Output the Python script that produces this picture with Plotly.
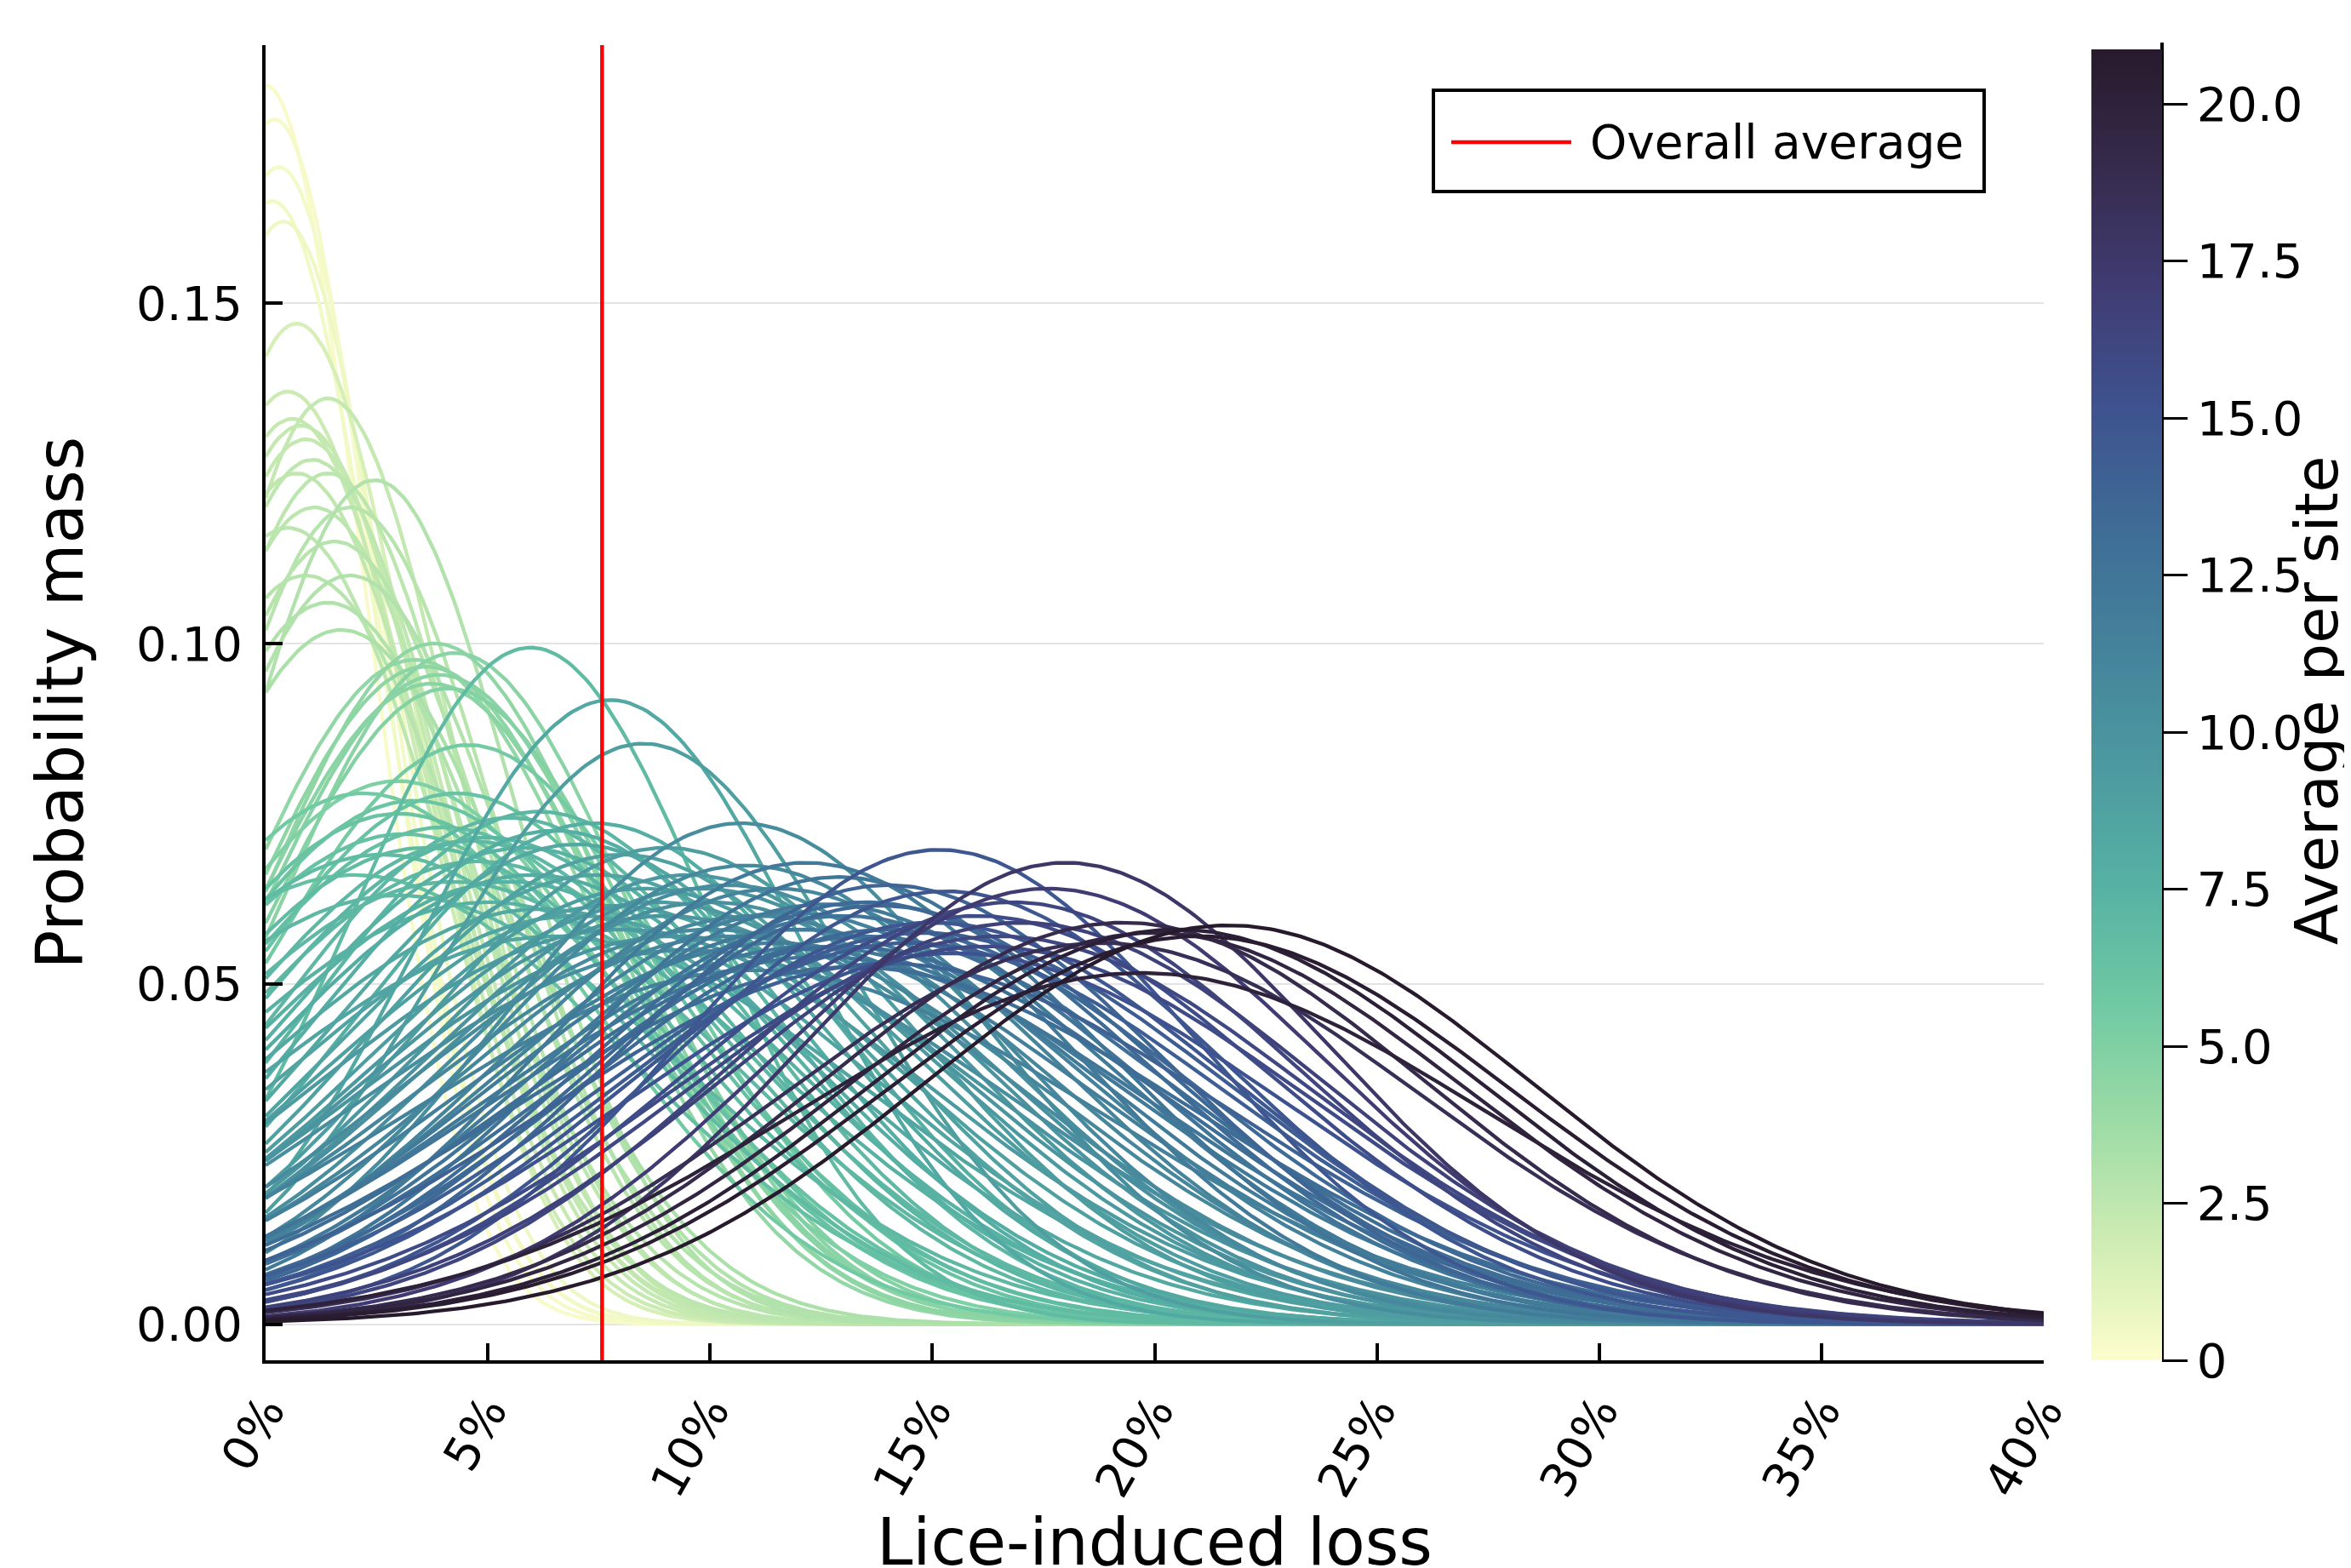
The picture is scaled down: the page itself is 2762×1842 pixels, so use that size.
import numpy as np
import plotly.graph_objects as go
from plotly.colors import sample_colorscale

# ---------------- data ----------------
# each site's probability-mass curve: mode (% loss), peak height, colour value (average per site)
light_mode = [0.0, 0.2, 0.3, 0.15, 0.4, 0.7, 0.5, 1.4, 0.6, 0.8, 0.9, 1.05, 0.7, 1.4, 2.45, 1.9, 1.1, 0.5, 1.55, 0.9, 1.9, 1.4, 1.7]
light_peak = [0.182, 0.177, 0.170, 0.165, 0.162, 0.147, 0.137, 0.136, 0.133, 0.132, 0.130, 0.127, 0.125, 0.125, 0.124, 0.120, 0.120, 0.117, 0.115, 0.110, 0.110, 0.106, 0.102]
light_c = [0.2, 0.3, 0.4, 0.5, 0.6, 1.6, 2.0, 2.3, 2.2, 2.3, 2.3, 2.5, 2.4, 2.6, 3.0, 2.8, 2.6, 2.6, 2.8, 2.8, 3.0, 3.0, 3.2]

green_mode = [3.8, 4.25, 3.35, 3.6, 3.9, 3.73, 4.1, 4.56, 2.97, 3.35, 3.1, 2.2, 4.3, 3.0, 2.6, 4.0, 2.0, 4.8]
green_peak = [0.100, 0.0986, 0.0976, 0.0966, 0.0954, 0.0941, 0.0934, 0.0851, 0.0798, 0.0769, 0.072, 0.078, 0.078, 0.075, 0.069, 0.073, 0.066, 0.068]
green_c = [4.3, 4.6, 4.2, 4.4, 4.6, 4.6, 4.8, 5.5, 5.0, 6.0, 6.3, 5.6, 6.2, 6.2, 6.8, 6.5, 6.5, 7.0]

teal_mode = [5.96, 7.75, 8.5, 6.15, 5.5, 7.4, 4.6, 5.0, 3.6, 5.8, 6.5, 7.0, 8.0, 9.0, 9.5, 8.5, 7.5, 6.0, 9.0, 8.0, 7.0, 5.0, 6.5, 4.2, 3.0, 7.8, 6.2, 5.5, 8.8]
teal_peak = [0.0994, 0.0917, 0.0853, 0.0753, 0.0744, 0.0736, 0.071, 0.0715, 0.070, 0.070, 0.0725, 0.0705, 0.069, 0.070, 0.066, 0.064, 0.066, 0.066, 0.060, 0.058, 0.060, 0.062, 0.057, 0.065, 0.063, 0.0615, 0.061, 0.065, 0.062]
teal_c = [6.8, 8.3, 9.0, 7.2, 7.0, 7.8, 7.0, 7.2, 6.8, 7.5, 7.8, 8.2, 8.8, 9.2, 9.6, 9.2, 8.6, 7.9, 9.8, 9.3, 8.6, 7.5, 8.5, 7.0, 7.0, 8.9, 8.2, 7.5, 9.5]

tealblue_mode = [10.7, 10.8, 11.5, 12.16, 12.9, 12.6, 10.0, 11.0, 13.0, 12.0, 11.5, 10.5, 9.5, 12.5, 13.5, 11.0, 10.0, 14.0, 9.8, 11.8, 13.8, 12.3, 9.2, 10.4, 13.2]
tealblue_peak = [0.0736, 0.0674, 0.064, 0.0678, 0.0657, 0.0617, 0.062, 0.060, 0.060, 0.058, 0.056, 0.057, 0.055, 0.054, 0.057, 0.052, 0.058, 0.058, 0.064, 0.0605, 0.0615, 0.0555, 0.057, 0.0645, 0.0525]
tealblue_c = [10.5, 10.8, 11.2, 12.0, 12.5, 12.0, 10.3, 11.0, 12.6, 12.0, 11.6, 11.0, 10.4, 12.4, 13.0, 11.4, 10.6, 13.4, 10.0, 11.5, 13.5, 12.2, 9.9, 10.4, 13.2]

blue_mode = [15.15, 15.3, 14.0, 13.5, 16.0, 15.0, 17.0, 16.5, 14.5, 13.0, 17.6, 18.0, 16.8, 15.5, 14.0, 14.8, 16.2]
blue_peak = [0.0697, 0.0636, 0.0645, 0.062, 0.060, 0.059, 0.059, 0.057, 0.056, 0.0555, 0.064, 0.0678, 0.062, 0.0545, 0.053, 0.0575, 0.0555]
blue_c = [14.8, 14.8, 13.8, 13.3, 15.6, 14.8, 16.6, 16.0, 14.2, 13.2, 17.1, 17.6, 16.3, 15.2, 14.0, 14.4, 15.8]

dark_mode = [21.66, 20.5, 20.0, 19.3, 19.7, 21.0, 18.8]
dark_peak = [0.0586, 0.058, 0.0575, 0.059, 0.0516, 0.057, 0.056]
dark_c = [20.87, 20.2, 19.6, 19.0, 20.0, 20.5, 18.5]

overall_average = 7.57          # % loss, red vertical line
c_max = 20.87                   # top of colour bar

x_ticks = [0, 5, 10, 15, 20, 25, 30, 35, 40]
x_ticktext = ["0%", "5%", "10%", "15%", "20%", "25%", "30%", "35%", "40%"]
y_ticks = [0.0, 0.05, 0.10, 0.15]
cbar_ticks = [0, 2.5, 5.0, 7.5, 10.0, 12.5, 15.0, 17.5, 20.0]
cbar_ticktext = ["0", "2.5", "5.0", "7.5", "10.0", "12.5", "15.0", "17.5", "20.0"]

# ---------------------------------------------------------------
modes = light_mode + green_mode + teal_mode + tealblue_mode + blue_mode + dark_mode
peaks = light_peak + green_peak + teal_peak + tealblue_peak + blue_peak + dark_peak
cvals = light_c + green_c + teal_c + tealblue_c + blue_c + dark_c

OFF = 8                      # page body margin
W, H = 2762 - OFF, 1842 - OFF
L, R, T, B = 312 - OFF, 2401 - OFF, 53 - OFF, 1598 - OFF
pw, ph = R - L, B - T
def px(X): return (X - OFF - L) / pw     # X, Y given in screen pixels
def py(Y): return (B - (Y - OFF)) / ph

FONT = "DejaVu Sans"
x = np.linspace(0, 40, 401)

fig = go.Figure()
order = np.argsort(cvals, kind="stable")
for i in order:
    m, p, c = modes[i], peaks[i], cvals[i]
    s = 1.0 / (p * np.sqrt(2 * np.pi))    # width of a unit-mass curve with this peak
    y = p * np.exp(-0.5 * ((x - m) / s) ** 2)
    col = sample_colorscale("deep", [min(c / c_max, 1.0)])[0]
    fig.add_trace(go.Scatter(x=x, y=y, mode="lines", line=dict(color=col, width=4.3),
                             showlegend=False, hoverinfo="skip"))

# colour bar carrier
fig.add_trace(go.Scatter(
    x=[0, 0], y=[0, 0], mode="markers", showlegend=False, hoverinfo="skip",
    marker=dict(color=[0, c_max], cmin=0, cmax=c_max, colorscale="deep", opacity=0,
                showscale=True,
                colorbar=dict(thickness=83, x=px(2457), xanchor="left", xpad=0,
                              y=0, yanchor="bottom", len=(1598 - 58) / ph, lenmode="fraction", ypad=0,
                              outlinewidth=0, ticks="outside", ticklen=30, tickwidth=3,
                              tickcolor="black", tickvals=cbar_ticks, ticktext=cbar_ticktext,
                              tickfont=dict(family=FONT, size=56, color="black"))),
))

# overall average line
fig.add_shape(type="line", xref="x", yref="paper", x0=overall_average, x1=overall_average,
              y0=0, y1=1, line=dict(color="red", width=4.5))

# colour bar axis line
fig.add_shape(type="line", xref="paper", yref="paper", x0=px(2540), x1=px(2540),
              y0=0, y1=py(50), line=dict(color="black", width=4))

# legend box (drawn)
fig.add_shape(type="rect", xref="paper", yref="paper", x0=px(1684), x1=px(2331),
              y0=py(225), y1=py(106), line=dict(color="black", width=4), fillcolor="white")
fig.add_shape(type="line", xref="paper", yref="paper", x0=px(1705), x1=px(1846),
              y0=py(167), y1=py(167), line=dict(color="red", width=4.5))
fig.add_annotation(text="Overall average", xref="paper", yref="paper", x=px(1866), y=py(167),
                   xanchor="left", yanchor="middle", showarrow=False,
                   font=dict(family=FONT, size=55, color="black"))

# axis titles
fig.add_annotation(text="Lice-induced loss", xref="paper", yref="paper", x=0.5, y=py(1812),
                   xanchor="center", yanchor="middle", showarrow=False,
                   font=dict(family=FONT, size=76, color="black"))
fig.add_annotation(text="Probability mass", xref="paper", yref="paper", x=px(70), y=0.5,
                   xanchor="center", yanchor="middle", textangle=-90, showarrow=False,
                   font=dict(family=FONT, size=76, color="black"))
fig.add_annotation(text="Average per site", xref="paper", yref="paper", x=px(2722), y=py(823),
                   xanchor="center", yanchor="middle", textangle=-90, showarrow=False,
                   font=dict(family=FONT, size=70, color="black"))

fig.update_layout(
    width=W, height=H,
    margin=dict(l=L, r=W - R, t=T, b=H - B, pad=0),
    paper_bgcolor="white", plot_bgcolor="white",
    font=dict(family=FONT, color="black"),
    showlegend=False,
    xaxis=dict(range=[0, 40], tickvals=x_ticks, ticktext=x_ticktext, tickangle=-60,
               showgrid=False, zeroline=False, showline=True, linecolor="black", linewidth=4,
               ticks="inside", ticklen=20, tickwidth=4, tickcolor="black",
               tickfont=dict(family=FONT, size=56, color="black")),
    yaxis=dict(range=[-0.0053, 0.1879], tickvals=y_ticks, tickformat=".2f",
               showgrid=True, gridcolor="#e4e4e4", gridwidth=2, zeroline=False,
               showline=True, linecolor="black", linewidth=4,
               ticks="inside", ticklen=20, tickwidth=4, tickcolor="black",
               ticklabelstandoff=12,
               tickfont=dict(family=FONT, size=56, color="black")),
)

fig.write_html("out.html")
